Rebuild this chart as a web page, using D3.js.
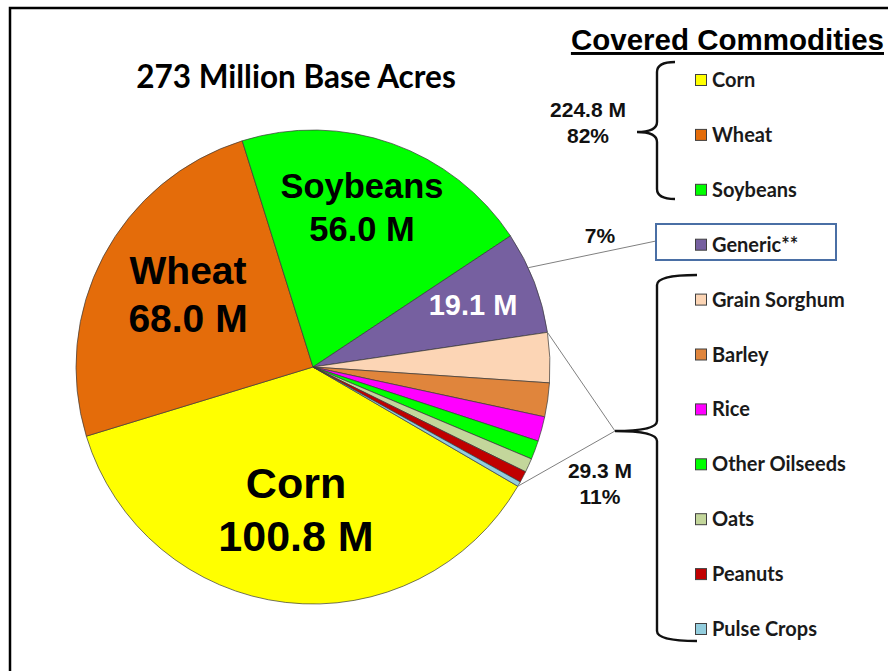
<!DOCTYPE html>
<html>
<head>
<meta charset="utf-8">
<script src="https://cdn.jsdelivr.net/npm/d3@7"></script>
<style>
  html, body { margin: 0; padding: 0; background: #fff; }
  svg { display: block; }
</style>
</head>
<body>
<div id="chart"></div>
<script>
// Base acres by covered commodity, millions of acres (legend order)
const crops  = ["Corn", "Wheat", "Soybeans", "Generic**", "Grain Sorghum", "Barley",
                "Rice", "Other Oilseeds", "Oats", "Peanuts", "Pulse Crops"];
const acres  = [100.8, 68.0, 56.0, 19.1, 9.3, 6.3, 4.6, 3.5, 2.6, 2.1, 0.9];
const colors = ["#ffff00", "#e46c0a", "#00ff00", "#7660a0", "#fcd5b5", "#e0853c",
                "#ff00ff", "#00ff00", "#c3d69b", "#c00000", "#93cddd"];

// Labels drawn inside the big slices
const sliceLabels = [
  { crop: "Corn",      lines: ["Corn", "100.8 M"],    size: 43, fill: "#000" },
  { crop: "Wheat",     lines: ["Wheat", "68.0 M"],    size: 39, fill: "#000" },
  { crop: "Soybeans",  lines: ["Soybeans", "56.0 M"], size: 34.5, fill: "#000" },
  { crop: "Generic**", lines: ["19.1 M"],             size: 29, fill: "#fff" }
];

// Group totals beside the braces
const groupLabels = [
  { lines: ["224.8 M", "82%"] },
  { lines: ["7%"] },
  { lines: ["29.3 M", "11%"] }
];

const W = 888, H = 671;
const cx = 313, cy = 367, R = 237;
const startDeg = 120.2;

const svg = d3.select("#chart").append("svg")
  .attr("width", W).attr("height", H);

// Frame (right/bottom edges fall outside the picture)
svg.append("rect")
  .attr("x", 10).attr("y", 8).attr("width", W + 20).attr("height", H + 20)
  .attr("fill", "none").attr("stroke", "#000").attr("stroke-width", 2.5);

// Title
svg.append("text")
  .attr("x", 296).attr("y", 88)
  .attr("text-anchor", "middle")
  .attr("font-family", "Lato, 'Open Sans', sans-serif")
  .attr("font-weight", 700).attr("font-size", "31.5px")
  .text("273 Million Base Acres");

// Pie
const rows = crops.map((c, i) => ({ crop: c, value: acres[i], color: colors[i] }));
const pie = d3.pie().sort(null).value(d => d.value)
  .startAngle(startDeg * Math.PI / 180)
  .endAngle((startDeg + 360) * Math.PI / 180);
const arcs = pie(rows);
const arc = d3.arc().innerRadius(0).outerRadius(R);

const g = svg.append("g").attr("transform", `translate(${cx},${cy})`);
g.selectAll("path.slice")
  .data(arcs)
  .join("path")
    .attr("class", "slice")
    .attr("d", arc)
    .attr("fill", d => d.data.color)
    .attr("stroke", "#3a3a3a")
    .attr("stroke-width", 0.7);

// Slice labels
const labelPos = {
  "Corn":      [296 - cx, 498 - cy],
  "Wheat":     [188 - cx, 284 - cy],
  "Soybeans":  [362 - cx, 198 - cy],
  "Generic**": [473 - cx, 315 - cy]
};
sliceLabels.forEach(l => {
  const [x, y] = labelPos[l.crop];
  const t = g.append("text")
    .attr("text-anchor", "middle")
    .attr("font-family", "'Liberation Sans', Arial, sans-serif")
    .attr("font-weight", 700).attr("font-size", l.size + "px")
    .attr("fill", l.fill);
  l.lines.forEach((s, i) => {
    t.append("tspan").attr("x", x).attr("y", y + i * l.size * 1.24).text(s);
  });
});

// Point on the rim at a given angle (d3 angle convention, radians)
function rim(a) {
  return [cx + R * Math.sin(a), cy - R * Math.cos(a)];
}

const genericArc = arcs[3];
const smallStart = arcs[4].startAngle;
const smallEnd   = arcs[arcs.length - 1].endAngle;

const leaders = svg.append("g")
  .attr("fill", "none").attr("stroke", "#808080").attr("stroke-width", 1);

// Generic leader to its box
const gp = rim(genericArc.startAngle + (genericArc.endAngle - genericArc.startAngle) * 0.35);
leaders.append("line")
  .attr("x1", gp[0]).attr("y1", gp[1]).attr("x2", 656).attr("y2", 241);

// Small-crop leaders to the brace tip
const tip2 = [615, 431];
[smallStart, smallEnd].forEach(a => {
  const p = rim(a);
  leaders.append("line")
    .attr("x1", p[0]).attr("y1", p[1]).attr("x2", tip2[0]).attr("y2", tip2[1]);
});

// Curly brace opening to the right, tip pointing left
function brace(xv, y0, y1, tipX, tipY, endX) {
  const r = 10;
  const p = d3.path();
  p.moveTo(endX, y0);
  p.quadraticCurveTo(xv, y0, xv, y0 + r);
  p.lineTo(xv, tipY - r);
  p.quadraticCurveTo(xv, tipY, tipX, tipY);
  p.quadraticCurveTo(xv, tipY, xv, tipY + r);
  p.lineTo(xv, y1 - r);
  p.quadraticCurveTo(xv, y1, endX, y1);
  return p.toString();
}

const braces = svg.append("g")
  .attr("fill", "none").attr("stroke", "#111").attr("stroke-width", 2.4);
braces.append("path").attr("d", brace(657, 62, 199, 637, 132, 675));
braces.append("path").attr("d", brace(657, 275, 641, tip2[0], tip2[1], 697));

// Group totals
const groupPos = [[588, 117], [600, 243], [600, 478]];
groupLabels.forEach((l, k) => {
  const t = svg.append("text")
    .attr("text-anchor", "middle")
    .attr("font-family", "'Liberation Sans', Arial, sans-serif")
    .attr("font-weight", 700).attr("font-size", "21px")
    .attr("fill", "#111");
  l.lines.forEach((s, i) => {
    t.append("tspan").attr("x", groupPos[k][0]).attr("y", groupPos[k][1] + i * 26).text(s);
  });
});

// Legend heading
svg.append("text")
  .attr("x", 884).attr("y", 50)
  .attr("text-anchor", "end")
  .attr("font-family", "'Liberation Sans', Arial, sans-serif")
  .attr("font-weight", 700).attr("font-size", "29.5px")
  .attr("text-decoration", "underline")
  .text("Covered Commodities");

// Legend
const ly = d3.scalePoint().domain(crops).range([80, 629]);

svg.append("rect")
  .attr("x", 656).attr("y", 224)
  .attr("width", 180).attr("height", 36)
  .attr("fill", "#fff").attr("stroke", "#4a6fa5").attr("stroke-width", 2);

const items = svg.append("g").selectAll("g")
  .data(rows)
  .join("g")
    .attr("transform", d => `translate(695,${ly(d.crop)})`);

items.append("rect")
  .attr("x", 0.5).attr("y", -5.5).attr("width", 11).attr("height", 11)
  .attr("fill", d => d.color)
  .attr("stroke", "#404040").attr("stroke-width", 1);

items.append("text")
  .attr("x", 17).attr("y", 7)
  .attr("font-family", "Lato, 'Open Sans', sans-serif")
  .attr("font-weight", 700).attr("font-size", "20px")
  .attr("fill", "#1a1a1a")
  .text(d => d.crop);
</script>
</body>
</html>
